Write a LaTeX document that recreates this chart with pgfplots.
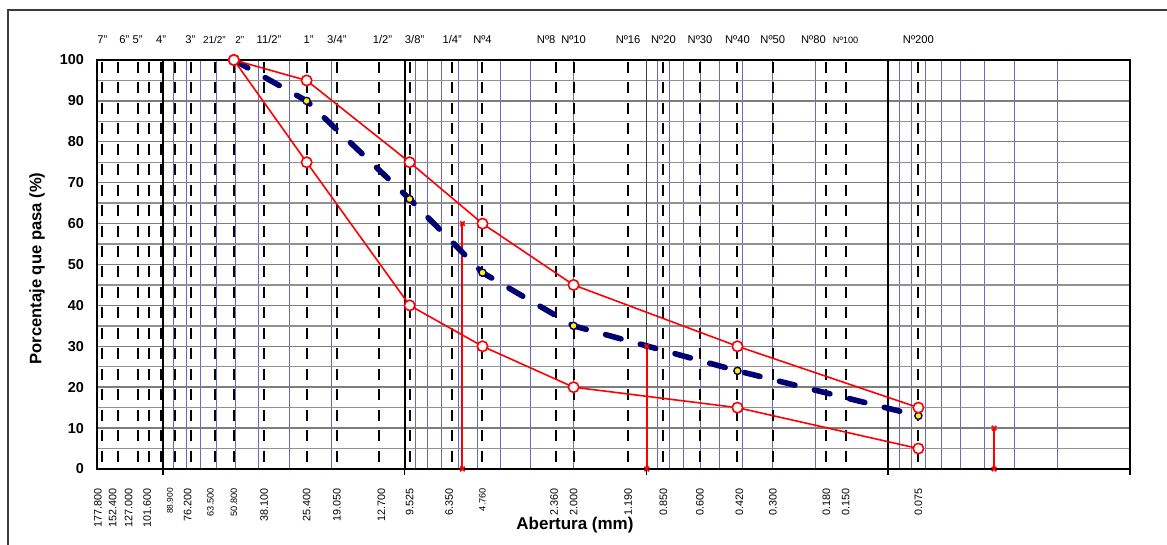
\documentclass[border=0pt]{standalone}
\usepackage{pgfplots}
\pgfplotsset{compat=1.18}
\usepackage{fontspec}
\setmainfont{Liberation Sans}
\definecolor{gridgray}{RGB}{125,125,125}
\definecolor{minblue}{RGB}{105,105,195}
\definecolor{navyc}{RGB}{0,0,115}
\definecolor{framegray}{RGB}{60,60,60}
\newcommand{\bl}[4]{\node[rotate=90,anchor=east,font=\fontsize{#4}{6}\selectfont] at ([xshift=#2,yshift=-6pt]axis cs:#1,0) {#3};}
\newcommand{\tl}[4]{\node[font=\fontsize{#4}{6}\selectfont] at ([xshift=#2,yshift=10pt]axis cs:#1,100) {#3};}
\begin{document}
\begin{tikzpicture}
\useasboundingbox (-48.5pt,-38pt) rectangle (535pt,234.5pt);
\draw[framegray, line width=1pt] (-44.5pt,-45pt) -- (-44.5pt,229.5pt) -- (545pt,229.5pt);
\begin{axis}[
  scale only axis, width=516.5pt, height=204.5pt,
  anchor=south west, at={(0pt,0pt)},
  xmode=log, x dir=reverse, xmin=0.01, xmax=187,
  ymin=0, ymax=100,
  ytick={0,10,...,100}, minor y tick num=1,
  ymajorgrids, yminorgrids, xminorgrids,
  minor x grid style={minblue, line width=0.5pt},
  major y grid style={gridgray, line width=0.7pt},
  minor y grid style={gridgray!85, line width=0.7pt},
  axis line style={black, line width=0.8pt},
  xticklabels={},
  xtick pos=left, ytick pos=left,
  tick align=outside,
  major tick length=3pt,
  xtick style={black, line width=0.8pt},
  ytick style={draw=none},
  minor tick style={draw=none},
  yticklabel style={font=\bfseries\fontsize{7.2}{8}\selectfont, xshift=0pt},
  /pgf/number format/assume math mode=true,
  clip=false,
]
% decade lines
\pgfplotsinvokeforeach{100,10,0.1}{
  \addplot[black, line width=1pt, forget plot] coordinates {(#1,0) (#1,100)};
}
\addplot[black!75, line width=0.5pt, forget plot] coordinates {(1,0) (1,100)};
% sieve lines
\pgfplotsinvokeforeach{177.8,152.4,127,114.3,101.6,88.9,76.2,61,50.8,38.1,25.4,19.05,12.7,9.525,6.35,4.76,2.36,2.0,1.19,0.85,0.6,0.42,0.3,0.18,0.15,0.075}{
  \addplot[black, line width=1pt, dash pattern=on 5.5pt off 4.725pt, dash phase=9.225pt, forget plot] coordinates {(#1,100) (#1,0)};
}
% D60, D30, D10 bars
\addplot[red, line width=1pt, mark=x, mark size=1.6pt, mark options={solid, line width=0.8pt}] coordinates {(5.76,0) (5.76,60)};
\addplot[red, line width=1pt, mark=x, mark size=1.6pt, mark options={solid, line width=0.8pt}] coordinates {(0.996,0) (0.996,30)};
\addplot[red, line width=1pt, mark=x, mark size=1.6pt, mark options={solid, line width=0.8pt}] coordinates {(0.0365,0) (0.0365,10)};
% gradation curve
\addplot[navyc, line width=2.8pt, line cap=round, dash pattern=on 8pt off 10pt, mark=*, mark size=1.8pt, mark options={solid, fill=yellow, draw=navyc, line width=0.7pt}] coordinates {
(50.8,100) (25.4,90) (9.525,66) (4.76,48) (2.0,35) (0.42,24) (0.075,13)};
% envelopes
\addplot[red, line width=0.8pt, mark=*, mark size=2.6pt, mark options={fill=white, draw=red, line width=0.8pt}] coordinates {
(50.8,100) (25.4,95) (9.525,75) (4.76,60) (2.0,45) (0.42,30) (0.075,15)};
\addplot[red, line width=0.8pt, mark=*, mark size=2.6pt, mark options={fill=white, draw=red, line width=0.8pt}] coordinates {
(50.8,100) (25.4,75) (9.525,40) (4.76,30) (2.0,20) (0.42,15) (0.075,5)};
% top labels
\tl{177.8}{0pt}{7"}{5.6}
\tl{152.4}{3pt}{6"}{5.6}
\tl{127}{0pt}{5"}{5.6}
\tl{101.6}{0pt}{4"}{5.6}
\tl{76.2}{-0.5pt}{3"}{5.6}
\tl{63.5}{2pt}{21/2"}{5}
\tl{50.8}{3pt}{2"}{5}
\tl{38.1}{2.5pt}{11/2"}{5.6}
\tl{25.4}{1pt}{1"}{5.6}
\tl{19.05}{0pt}{3/4"}{5.6}
\tl{12.7}{1.5pt}{1/2"}{5.6}
\tl{9.525}{2.5pt}{3/8"}{5.6}
\tl{6.35}{0pt}{1/4"}{5.6}
\tl{4.76}{0pt}{Nº4}{5.6}
\tl{2.36}{-5pt}{Nº8}{5.6}
\tl{2.0}{0pt}{Nº10}{5.6}
\tl{1.19}{0pt}{Nº16}{5.6}
\tl{0.85}{0pt}{Nº20}{5.6}
\tl{0.6}{0pt}{Nº30}{5.6}
\tl{0.42}{0pt}{Nº40}{5.6}
\tl{0.3}{0pt}{Nº50}{5.6}
\tl{0.18}{-6.5pt}{Nº80}{5.6}
\tl{0.15}{0pt}{Nº100}{4.6}
\tl{0.075}{0pt}{Nº200}{5.6}
% bottom labels
\bl{177.8}{-2.25pt}{177.800}{5.4}
\bl{152.4}{-2.85pt}{152.400}{5.4}
\bl{127}{-4.5pt}{127.000}{5.4}
\bl{101.6}{-7pt}{101.600}{5.4}
\bl{88.9}{-2.5pt}{88.900}{4.2}
\bl{76.2}{-1.75pt}{76.200}{5.4}
\bl{63.5}{0pt}{63.500}{4.6}
\bl{50.8}{0pt}{50.800}{4.6}
\bl{38.1}{0pt}{38.100}{5.4}
\bl{25.4}{0pt}{25.400}{5.4}
\bl{19.05}{0pt}{19.050}{5.4}
\bl{12.7}{1pt}{12.700}{5.4}
\bl{9.525}{0pt}{9.525}{5.4}
\bl{6.35}{-1.5pt}{6.350}{5.4}
\bl{4.76}{0pt}{4.760}{4.6}
\bl{2.36}{-1pt}{2.360}{5.4}
\bl{2.0}{0pt}{2.000}{5.4}
\bl{1.19}{0pt}{1.190}{5.4}
\bl{0.85}{0pt}{0.850}{5.4}
\bl{0.6}{0pt}{0.600}{5.4}
\bl{0.42}{1pt}{0.420}{5.4}
\bl{0.3}{0pt}{0.300}{5.4}
\bl{0.18}{0pt}{0.180}{5.4}
\bl{0.15}{0pt}{0.150}{5.4}
\bl{0.075}{0pt}{0.075}{5.4}
% axis titles
\node[rotate=90, font=\bfseries\fontsize{8.3}{9}\selectfont] at (axis description cs:-0.058,0.49) {Porcentaje que pasa (\%)};
\node[font=\bfseries\fontsize{8.5}{9}\selectfont] at (axis description cs:0.4627,-0.136) {Abertura (mm)};
\end{axis}
\end{tikzpicture}
\end{document}
